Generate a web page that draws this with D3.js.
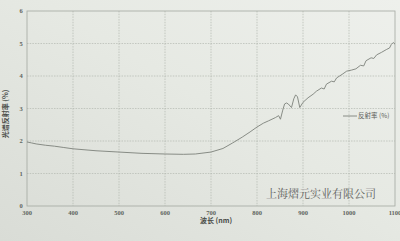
<!DOCTYPE html>
<meta charset="utf-8">
<head>
<style>
  html, body { margin: 0; padding: 0; background: #e2e5df; }
  svg { display: block; }
  .grid line { stroke: #b3b7b0; stroke-width: 0.7; stroke-dasharray: 1.5,1.2; }
  .tick-label { font-family: "Liberation Serif", serif; font-weight: bold; font-size: 6.5px; fill: #606460; }
</style>
<title>光谱反射率</title>
</head>
<body>
<svg width="400" height="241"></svg>
<script src="https://cdn.jsdelivr.net/npm/d3@7"></script>
<script>

// data
var wavelength = [300, 310, 320, 340, 360, 380, 400, 450, 500, 550, 600, 640, 666, 700, 726, 747, 768, 785, 800, 814, 825, 840, 847, 851, 856, 860, 864, 868, 875, 880, 884, 888, 893, 900, 911, 922, 929, 940, 946, 951, 962, 968, 973, 985, 995, 1005, 1015, 1025, 1032, 1037, 1048, 1054, 1060, 1071, 1082, 1088, 1092, 1096, 1100];
var reflectance = [1.97, 1.94, 1.91, 1.87, 1.84, 1.80, 1.76, 1.70, 1.66, 1.62, 1.60, 1.59, 1.60, 1.66, 1.77, 1.94, 2.12, 2.28, 2.43, 2.55, 2.62, 2.72, 2.78, 2.67, 2.95, 3.14, 3.17, 3.14, 3.03, 3.30, 3.42, 3.36, 3.03, 3.19, 3.33, 3.44, 3.53, 3.63, 3.60, 3.75, 3.84, 3.82, 3.94, 4.05, 4.15, 4.18, 4.22, 4.33, 4.31, 4.47, 4.56, 4.54, 4.65, 4.73, 4.82, 4.86, 4.97, 5.03, 4.98];
var xTicks = [300, 400, 500, 600, 700, 800, 900, 1000, 1100];
var yTicks = [0, 1, 2, 3, 4, 5, 6];

var svg = d3.select("svg");
var pLeft = 27, pRight = 395, pTop = 11, pBottom = 206;

// photo-ish background
var defs = svg.append("defs");
var bg = defs.append("linearGradient").attr("id", "bg")
    .attr("x1", "0").attr("y1", "1").attr("x2", "1").attr("y2", "0");
bg.append("stop").attr("offset", "0").attr("stop-color", "#d9dcd6");
bg.append("stop").attr("offset", "0.55").attr("stop-color", "#e6e9e3");
bg.append("stop").attr("offset", "1").attr("stop-color", "#eef0ec");
svg.append("rect").attr("width", 400).attr("height", 241).attr("fill", "url(#bg)");

var x = d3.scaleLinear().domain([300, 1100]).range([pLeft, pRight]);
var y = d3.scaleLinear().domain([0, 6]).range([pBottom, pTop]);

var grid = svg.append("g").attr("class", "grid");
grid.selectAll(".v").data(xTicks.slice(1, -1)).enter().append("line")
    .attr("x1", function(d) { return x(d); }).attr("x2", function(d) { return x(d); })
    .attr("y1", pTop).attr("y2", pBottom);
grid.selectAll(".h").data(yTicks.slice(1, -1)).enter().append("line")
    .attr("x1", pLeft).attr("x2", pRight)
    .attr("y1", function(d) { return y(d); }).attr("y2", function(d) { return y(d); });

// frame
svg.append("rect")
    .attr("x", pLeft).attr("y", pTop)
    .attr("width", pRight - pLeft).attr("height", pBottom - pTop)
    .attr("fill", "none").attr("stroke", "#a4a8a1").attr("stroke-width", 0.8);

// tick labels
svg.selectAll(".xl").data(xTicks).enter().append("text")
    .attr("class", "tick-label")
    .attr("x", function(d) { return x(d); })
    .attr("y", pBottom + 9)
    .attr("text-anchor", "middle")
    .text(function(d) { return d; });
svg.selectAll(".yl").data(yTicks).enter().append("text")
    .attr("class", "tick-label")
    .attr("x", pLeft - 6)
    .attr("y", function(d) { return y(d) + 2; })
    .attr("text-anchor", "middle")
    .text(function(d) { return d; });

// axis titles
svg.append("text")
    .attr("transform", "translate(8," + 114 + ") rotate(-90)")
    .attr("text-anchor", "middle")
    .attr("font-family", "Noto Sans CJK SC, sans-serif")
    .attr("font-weight", "bold")
    .attr("font-size", "7px")
    .attr("fill", "#4a4d49")
    .text("光谱反射率 (%)");
svg.append("text")
    .attr("x", 216).attr("y", 223)
    .attr("text-anchor", "middle")
    .attr("font-family", "Noto Sans CJK SC, sans-serif")
    .attr("font-weight", "bold")
    .attr("font-size", "7px")
    .attr("fill", "#4a4d49")
    .text("波长 (nm)");

// curve
var line = d3.line()
    .x(function(d, i) { return x(wavelength[i]); })
    .y(function(d) { return y(d); });
svg.append("path")
    .datum(reflectance)
    .attr("fill", "none")
    .attr("stroke", "#7d817b")
    .attr("stroke-width", 0.9)
    .attr("d", line);

// legend
var lg = svg.append("g").attr("transform", "translate(343,116)");
lg.append("line").attr("x1", 0).attr("x2", 14).attr("y1", 0).attr("y2", 0)
    .attr("stroke", "#7d817b").attr("stroke-width", 0.9);
lg.append("text")
    .attr("x", 15).attr("y", 2.2)
    .attr("font-family", "Noto Sans CJK SC, sans-serif")
    .attr("font-size", "6.5px")
    .attr("fill", "#5a5d59")
    .text("反射率 (%)");

// watermark
svg.append("text")
    .attr("x", 321).attr("y", 198)
    .attr("text-anchor", "middle")
    .attr("font-family", "Noto Serif CJK SC, Noto Sans CJK SC, serif")
    .attr("font-size", "11px")
    .attr("fill", "#5e615d")
    .text("上海熠元实业有限公司");

</script>
</body>
